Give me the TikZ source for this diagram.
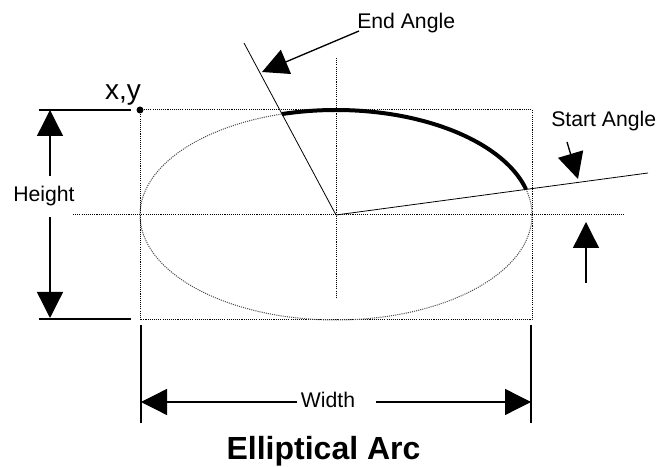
\documentclass[tikz,border=0pt]{standalone}
\usepackage{fontspec}
\setmainfont{Liberation Sans}
\usetikzlibrary{arrows.meta}
\tikzset{
  guide/.style={line width=.75pt,dash pattern=on .8pt off .8pt},
  dimline/.style={line width=1pt,-{Triangle[length=19.5pt,width=19.5pt]}},
  extline/.style={line width=1.5pt},
  ray/.style={line width=.6pt},
  lbl/.style={inner sep=0pt,font=\fontsize{15.9}{18}\selectfont}
}
\begin{document}
\begin{tikzpicture}[x=.75pt,y=.75pt]
\path[use as bounding box] (0,0) rectangle (657,467);
% box, ellipse and axes
\coordinate (c) at (336,252);
\coordinate (tl) at (140,357);
\coordinate (br) at (532,147);
\coordinate (axl) at (73,252);\coordinate (axr) at (625,252);
\coordinate (axt) at (336,409);\coordinate (axb) at (336,168);
\draw[guide] (tl) rectangle (br);
\draw[guide,black!70] (c) ellipse[x radius=196,y radius=105];
\draw[guide] (axl) -- (axr) (axt) -- (axb);
\fill (tl) circle (3.5);
\node[lbl,anchor=base,font=\fontsize{21}{24}\selectfont] (xy) at (123,367) {x,y};
% angles
\coordinate (ea) at (244,424);
\coordinate (sa) at (648,294);
\draw[ray] (c) -- (ea) (c) -- (sa);
\draw[line width=3pt] ([shift={(14.1:196 and 105)}]c) arc[start angle=14.1,end angle=106,x radius=196,y radius=105];
\node[lbl,anchor=base west] (endlbl) at (357,438) {End Angle};
\coordinate (endtip) at (262,395);
\draw[dimline] (359,436) coordinate (endfrom) -- (endtip);
\node[lbl,anchor=base west] (startlbl) at (551,340) {Start Angle};
\coordinate (startfrom) at (567,325);\coordinate (starttip) at (578,288);
\draw[dimline] (startfrom) -- (starttip);
\coordinate (upfrom) at (586,184);\coordinate (uptip) at (586,245);
\draw[dimline] (upfrom) -- (uptip);
% height
\coordinate (h1) at (39,357);\coordinate (h2) at (131,357);
\coordinate (h3) at (39,148);\coordinate (h4) at (131,148);
\draw[extline] (h1) -- (h2) (h3) -- (h4);
\node[lbl,anchor=base] (hlbl) at (44,265) {Height};
\draw[dimline] (50,291) -- (50,357);
\draw[dimline] (50,250) -- (50,149);
% width
\coordinate (w1) at (141,142);\coordinate (w2) at (141,44);
\coordinate (w3) at (531,142);\coordinate (w4) at (531,44);
\draw[extline] (w1) -- (w2) (w3) -- (w4);
\node[lbl,anchor=base] (wlbl) at (328,59) {Width};
\draw[dimline] (297,65) -- (141,65);
\draw[dimline] (376,65) -- (531,65);
\node[inner sep=0pt,anchor=base,font=\fontsize{24}{27}\selectfont\bfseries] (title) at (323.5,7) {Elliptical Arc};
\end{tikzpicture}
\end{document}
